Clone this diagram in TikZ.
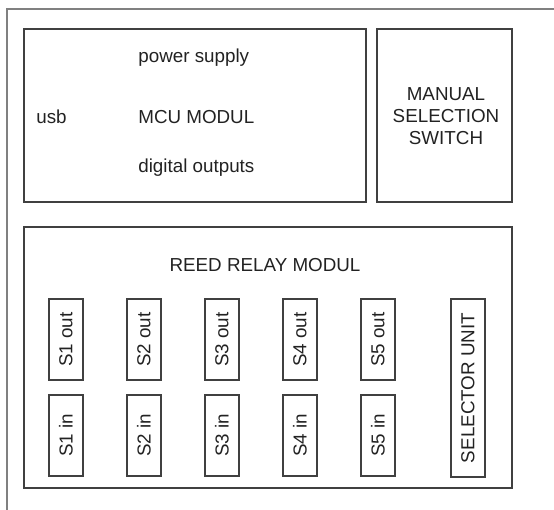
\documentclass[tikz,border=0pt]{standalone}
\usepackage{fontspec}
\setmainfont{Liberation Sans}
\definecolor{cFrame}{HTML}{808080}
\definecolor{cBox}{HTML}{404040}
\definecolor{cTxt}{HTML}{222222}

\begin{document}
\begin{tikzpicture}[
    x=1cm, y=1cm, font=\fontsize{10.7}{12.6}\selectfont, text=cTxt,
    frame/.style={draw=cFrame, line width=0.6pt},
    blk/.style={draw=cBox, line width=0.6pt},
    sw/.style={draw=cBox, line width=0.6pt, rotate=90, inner sep=0pt,
               minimum width=1.62cm, minimum height=0.68cm},
    lbl/.style={inner sep=0pt},
]
\clip (0,0) rectangle (11.08,10.20);

% ===================== Marco exterior =====================
\draw[frame] (0.14,-0.50) rectangle (11.60,10.02);

% ===================== MCU =====================
\draw[blk] (0.48,6.16) rectangle (7.32,9.62);
\node[lbl, anchor=west] (pwr) at (2.76,9.04) {power supply};
\node[lbl, anchor=west] (mcu) at (2.76,7.86) {MCU MODUL};
\node[lbl, anchor=west] (dout) at (2.76,6.84) {digital outputs};
\node[lbl, anchor=west] (usb) at (0.72,7.86) {usb};

% ===================== Selector manual =====================
\draw[blk] (7.54,6.16) rectangle (10.24,9.62);
\node[lbl, align=center] (manual) at (8.92,7.88) {MANUAL\\SELECTION\\SWITCH};

% ===================== Reed relay =====================
\draw[blk] (0.48,0.44) rectangle (10.24,5.66);
\node[lbl] (reed) at (5.30,4.90) {REED RELAY MODUL};

\foreach \i in {1,...,5} {
    \node[sw] (out\i) at (1.32+1.56*\i-1.56,3.41) {S\i\ out};
    \node[sw] (in\i) at (1.32+1.56*\i-1.56,1.49) {S\i\ in};
}
\node[sw, minimum width=3.56cm] (sel) at (9.36,2.44) {SELECTOR UNIT};

\end{tikzpicture}
\end{document}
